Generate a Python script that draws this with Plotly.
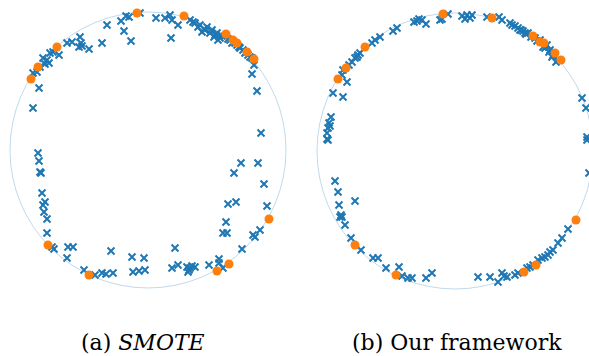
import plotly.graph_objects as go

# Embedding coordinates (circle of radius 138 centred at origin)
smote_major_x = [-8,-22,-27,-19,-41,-24,-17,-46,-59,-68,-69,-66,-76,-81,-67,-89,-95,-98,-101,-105,-99,-103,-108,-115,-111,-109,-115,
                 8,17,22,24,30,23,42,47,52,54,59,64,69,72,77,82,89,92,95,100,104,57,67,87,97,106,104,109,113,
                 45,50,56,62,66,74,80,84,91,98,102,70,
                 -110,-109,-108,-107,-106,-103,-105,-104,-101,-101,-96,-94,-80,-75,-81,-64,-53,-46,-42,-35,-37,-16,-4,-15,-9,-3,
                 27,24,30,39,40,42,44,47,41,61,71,71,75,93,110,86,116,80,88,119,78,75,79,105,107,112,94]
smote_major_y = [137,134,129,133,125,119,109,107,101,113,103,104,108,107,107,95,98,97,90,92,87,86,83,77,78,62,42,
                 132,132,135,130,125,112,130,127,125,118,123,120,117,112,114,110,105,102,100,95,92,120,115,107,97,85,76,59,17,
                 128,123,121,117,113,114,111,107,103,98,93,110,
                 -3,-11,-22,-23,-43,-52,-55,-62,-69,-83,-97,-99,-97,-97,-108,-120,-125,-123,-124,-123,-101,-107,-108,-122,-121,-120,
                 -98,-118,-115,-117,-122,-118,-116,-117,-120,-115,-109,-113,-118,-13,-13,-23,-34,-54,-52,-56,-72,-83,-83,-85,-87,-80,-99]
smote_minor_x = [-11,-91,-110,-117,36,78,85,89,99,106,-100,-59,69,81,121]
smote_minor_y = [137,103,83,71,134,116,110,107,98,91,-95,-125,-121,-114,-69]

ours_major_x = [-7,-15,-29,-38,-36,-33,-41,-58,-62,-75,-80,-83,-95,-97,-98,-100,-103,-106,-112,-113,-108,-122,-112,-124,-126,-127,-125,-128,-128,
                -13,7,12,17,10,15,32,47,44,55,60,63,68,73,85,92,95,98,103,65,70,80,90,127,131,132,132,134,
                57,66,76,82,88,94,97,101,71,
                -127,-120,-117,-116,-100,-114,-113,-115,-110,-104,-94,-82,-77,-69,-56,-53,-47,-43,-29,-23,
                23,35,43,47,49,52,60,63,72,75,83,87,90,95,98,103,107,113,78,93]
ours_major_y = [137,131,127,130,132,131,129,123,120,114,111,108,98,96,94,93,89,86,81,76,69,58,54,34,28,23,25,18,12,
                132,135,136,136,132,133,134,131,134,128,125,123,120,118,111,106,101,96,91,121,118,113,103,53,43,14,11,-22,
                126,121,114,110,104,99,94,89,117,
                11,-30,-41,-54,-50,-64,-66,-66,-74,-87,-99,-107,-107,-117,-116,-125,-127,-127,-127,-122,
                -126,-126,-131,-122,-125,-126,-124,-122,-117,-116,-109,-107,-106,-101,-99,-92,-87,-78,-114,-104]
ours_minor_x = [-12,-90,-109,-117,37,78,85,89,100,106,-100,-59,69,81,121]
ours_minor_y = [137,104,83,72,133,115,109,108,98,91,-94,-124,-121,-114,-69]

captions = ["(a) <i>SMOTE</i>", "(b) Our framework"]

R = 138
BLUE = "#1f77b4"
ORANGE = "#ff7f0e"
W, H = 589, 356

fig = go.Figure()

def add_panel(mx, my, nx, ny, xa, ya):
    fig.add_trace(go.Scatter(x=mx, y=my, mode="markers", xaxis=xa, yaxis=ya,
                             marker=dict(symbol="x-thin", size=7, line=dict(width=2, color=BLUE), color=BLUE),
                             showlegend=False, hoverinfo="skip"))
    fig.add_trace(go.Scatter(x=nx, y=ny, mode="markers", xaxis=xa, yaxis=ya,
                             marker=dict(symbol="circle", size=9, color=ORANGE, line=dict(width=0)),
                             showlegend=False, hoverinfo="skip"))
    fig.add_shape(type="circle", xref=xa, yref=ya, x0=-R, x1=R, y0=-R, y1=R,
                  line=dict(color="rgba(31,119,180,0.28)", width=1), layer="below")

add_panel(smote_major_x, smote_major_y, smote_minor_x, smote_minor_y, "x", "y")
add_panel(ours_major_x, ours_major_y, ours_minor_x, ours_minor_y, "x2", "y2")

# 1 data unit = 1 px; left centre at px (148,150), right centre at px (455,151)
split = 300
ax = dict(visible=False, showgrid=False, zeroline=False, fixedrange=True)
fig.update_layout(
    width=W, height=H, margin=dict(l=0, r=0, t=0, b=0),
    paper_bgcolor="white", plot_bgcolor="white",
    xaxis=dict(ax, domain=[0, split / W], range=[-148, split - 148]),
    yaxis=dict(ax, domain=[0, 1], range=[150 - H, 150]),
    xaxis2=dict(ax, domain=[split / W, 1], range=[split - 455, W - 455]),
    yaxis2=dict(ax, domain=[0, 1], range=[151 - H, 151]),
)

for cx, txt in zip([143, 457], captions):
    fig.add_annotation(x=cx / W, y=1 - 342 / H, xref="paper", yref="paper", text=txt,
                       showarrow=False, xanchor="center", yanchor="middle",
                       font=dict(family="DejaVu Serif", size=22, color="black"))

fig.write_html("out.html", config={"displayModeBar": False},
               post_script="document.body.style.margin='0px';document.body.style.overflow='hidden';")
